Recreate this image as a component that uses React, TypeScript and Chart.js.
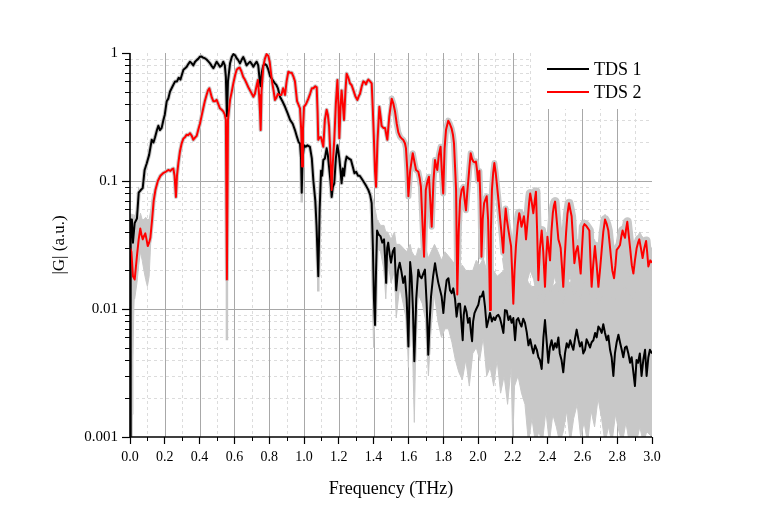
import React, { useEffect, useRef } from 'react';
import { Chart, registerables } from 'chart.js';

Chart.register(...registerables);

const FONT = "'Liberation Serif', 'Times New Roman', serif";
const GREY = '#c8c8c8';

const xTickValues = [0, 0.2, 0.4, 0.6, 0.8, 1.0, 1.2, 1.4, 1.6, 1.8, 2.0, 2.2, 2.4, 2.6, 2.8, 3.0];
const xTickLabels = ['0.0', '0.2', '0.4', '0.6', '0.8', '1.0', '1.2', '1.4', '1.6', '1.8', '2.0', '2.2', '2.4', '2.6', '2.8', '3.0'];
const yTickValues = [0.001, 0.01, 0.1, 1];
const yTickLabels = ['0.001', '0.01', '0.1', '1'];
const seriesNames = ['TDS 1', 'TDS 2'];
const xTitle = 'Frequency (THz)';
const yTitle = '|G| (a.u.)';

// TDS 1 (black)
const freq1 = [
  0.000, 0.004, 0.011, 0.017, 0.027, 0.040, 0.050, 0.062, 0.073, 0.084, 0.096, 0.110, 0.125, 0.135, 0.144, 0.155, 0.163, 0.172, 0.182, 0.192,
  0.200, 0.211, 0.220, 0.230, 0.245, 0.259, 0.270, 0.280, 0.290, 0.307, 0.317, 0.326, 0.335, 0.345, 0.355, 0.364, 0.373, 0.383, 0.392, 0.402,
  0.411, 0.420, 0.430, 0.440, 0.450, 0.460, 0.470, 0.479, 0.488, 0.498, 0.507, 0.517, 0.527, 0.536, 0.545, 0.551, 0.557, 0.563, 0.575, 0.585,
  0.594, 0.604, 0.613, 0.622, 0.632, 0.641, 0.651, 0.660, 0.670, 0.680, 0.690, 0.700, 0.709, 0.718, 0.728, 0.737, 0.745, 0.750, 0.757, 0.766,
  0.775, 0.785, 0.795, 0.805, 0.815, 0.825, 0.833, 0.842, 0.850, 0.862, 0.876, 0.891, 0.905, 0.920, 0.935, 0.948, 0.960, 0.970, 0.977, 0.983,
  0.987, 0.992, 1.000, 1.010, 1.020, 1.034, 1.045, 1.054, 1.065, 1.072, 1.082, 1.090, 1.098, 1.104, 1.111, 1.120, 1.130, 1.137, 1.144, 1.152,
  1.159, 1.166, 1.174, 1.183, 1.192, 1.198, 1.203, 1.210, 1.216, 1.223, 1.230, 1.238, 1.245, 1.256, 1.270, 1.280, 1.290, 1.300, 1.310, 1.320,
  1.330, 1.340, 1.350, 1.360, 1.370, 1.380, 1.389, 1.396, 1.402, 1.408, 1.414, 1.420, 1.430, 1.440, 1.450, 1.460, 1.466, 1.472, 1.478, 1.484,
  1.492, 1.500, 1.510, 1.520, 1.530, 1.540, 1.550, 1.560, 1.570, 1.580, 1.590, 1.600, 1.610, 1.618, 1.626, 1.634, 1.645, 1.657, 1.666, 1.676,
  1.686, 1.695, 1.705, 1.714, 1.722, 1.730, 1.742, 1.753, 1.762, 1.772, 1.782, 1.791, 1.801, 1.810, 1.820, 1.830, 1.839, 1.849, 1.858, 1.868,
  1.877, 1.887, 1.897, 1.904, 1.912, 1.918, 1.925, 1.934, 1.943, 1.952, 1.960, 1.966, 1.972, 1.980, 1.990, 2.002, 2.011, 2.021, 2.030, 2.040,
  2.050, 2.060, 2.069, 2.080, 2.090, 2.098, 2.107, 2.117, 2.126, 2.136, 2.146, 2.155, 2.165, 2.175, 2.185, 2.193, 2.203, 2.213, 2.222, 2.231,
  2.240, 2.250, 2.260, 2.270, 2.280, 2.290, 2.300, 2.310, 2.318, 2.328, 2.338, 2.347, 2.356, 2.366, 2.376, 2.385, 2.395, 2.404, 2.413, 2.423,
  2.433, 2.443, 2.452, 2.462, 2.470, 2.480, 2.490, 2.500, 2.510, 2.520, 2.530, 2.539, 2.548, 2.557, 2.567, 2.577, 2.586, 2.596, 2.605, 2.615,
  2.624, 2.634, 2.644, 2.653, 2.663, 2.673, 2.682, 2.692, 2.701, 2.711, 2.720, 2.730, 2.740, 2.749, 2.759, 2.768, 2.778, 2.787, 2.797, 2.807,
  2.816, 2.826, 2.835, 2.845, 2.854, 2.864, 2.874, 2.883, 2.893, 2.902, 2.911, 2.920, 2.930, 2.940, 2.950, 2.960, 2.969, 2.979, 2.988, 3.000,
];
const tds1 = [
  0.0008, 0.050, 0.050, 0.033, 0.047, 0.051, 0.081, 0.085, 0.088, 0.122, 0.137, 0.160, 0.210, 0.200, 0.220, 0.250, 0.270, 0.250, 0.260, 0.300,
  0.330, 0.420, 0.440, 0.500, 0.550, 0.600, 0.600, 0.640, 0.620, 0.740, 0.760, 0.780, 0.820, 0.855, 0.830, 0.800, 0.850, 0.880, 0.900, 0.935,
  0.940, 0.920, 0.910, 0.890, 0.860, 0.830, 0.790, 0.760, 0.800, 0.855, 0.820, 0.780, 0.800, 0.855, 0.800, 0.650, 0.320, 0.600, 0.830, 0.930,
  0.980, 0.960, 0.910, 0.880, 0.830, 0.880, 0.930, 0.870, 0.800, 0.830, 0.855, 0.820, 0.780, 0.820, 0.855, 0.800, 0.620, 0.550, 0.700, 0.800,
  0.820, 0.800, 0.740, 0.660, 0.630, 0.600, 0.580, 0.560, 0.530, 0.455, 0.420, 0.380, 0.340, 0.300, 0.280, 0.250, 0.220, 0.200, 0.197, 0.150,
  0.081, 0.150, 0.190, 0.185, 0.190, 0.185, 0.150, 0.100, 0.070, 0.045, 0.018, 0.060, 0.120, 0.110, 0.146, 0.150, 0.180, 0.160, 0.129, 0.100,
  0.075, 0.090, 0.096, 0.150, 0.190, 0.170, 0.150, 0.120, 0.096, 0.125, 0.110, 0.140, 0.155, 0.150, 0.146, 0.130, 0.115, 0.118, 0.110, 0.110,
  0.105, 0.100, 0.095, 0.090, 0.085, 0.078, 0.067, 0.030, 0.012, 0.0075, 0.020, 0.041, 0.038, 0.037, 0.033, 0.035, 0.025, 0.016, 0.030, 0.033,
  0.027, 0.023, 0.028, 0.030, 0.014, 0.020, 0.023, 0.0196, 0.016, 0.018, 0.012, 0.0051, 0.0233, 0.018, 0.010, 0.0039, 0.012, 0.0203, 0.018, 0.0174,
  0.019, 0.0203, 0.011, 0.0044, 0.008, 0.0125, 0.018, 0.0228, 0.019, 0.016, 0.0141, 0.0125, 0.0093, 0.013, 0.0168, 0.0174, 0.014, 0.0133, 0.0145, 0.012,
  0.0087, 0.011, 0.011, 0.008, 0.0057, 0.009, 0.0105, 0.0095, 0.0078, 0.0085, 0.0065, 0.0056, 0.008, 0.0093, 0.010, 0.0108, 0.0125, 0.0125, 0.0137, 0.0105,
  0.0072, 0.0082, 0.0093, 0.008, 0.0086, 0.0082, 0.0088, 0.009, 0.0085, 0.0075, 0.0065, 0.0098, 0.0097, 0.0082, 0.0088, 0.0078, 0.0085, 0.0057, 0.0082, 0.0085,
  0.0078, 0.0073, 0.0084, 0.0078, 0.0066, 0.0052, 0.0058, 0.0050, 0.0045, 0.0052, 0.0048, 0.0042, 0.0040, 0.0034, 0.0060, 0.0082, 0.0055, 0.0038, 0.0050, 0.0057,
  0.0048, 0.0054, 0.0050, 0.0060, 0.0045, 0.0040, 0.0032, 0.0045, 0.0054, 0.0050, 0.0057, 0.0052, 0.0048, 0.0058, 0.0069, 0.0058, 0.0051, 0.0055, 0.0045, 0.0048,
  0.0058, 0.0054, 0.0050, 0.0055, 0.0057, 0.0065, 0.0060, 0.0073, 0.0070, 0.0065, 0.0076, 0.0065, 0.0057, 0.0062, 0.0048, 0.0042, 0.0030, 0.0045, 0.0055, 0.0063,
  0.0055, 0.0048, 0.0042, 0.0050, 0.0051, 0.0045, 0.0038, 0.0042, 0.0032, 0.0025, 0.0040, 0.0038, 0.0045, 0.0030, 0.0040, 0.0048, 0.0030, 0.0042, 0.0048, 0.0045,
];

// TDS 2 (red)
const freq2 = [
  0.000, 0.008, 0.017, 0.027, 0.040, 0.050, 0.059, 0.066, 0.073, 0.080, 0.088, 0.095, 0.102, 0.110, 0.117, 0.127, 0.136, 0.146, 0.160, 0.175,
  0.190, 0.205, 0.220, 0.232, 0.240, 0.249, 0.256, 0.264, 0.270, 0.278, 0.287, 0.297, 0.307, 0.316, 0.326, 0.335, 0.345, 0.355, 0.364, 0.373,
  0.383, 0.392, 0.402, 0.411, 0.421, 0.430, 0.440, 0.448, 0.456, 0.463, 0.470, 0.479, 0.488, 0.498, 0.507, 0.517, 0.527, 0.536, 0.545, 0.551,
  0.557, 0.563, 0.575, 0.585, 0.594, 0.604, 0.613, 0.622, 0.630, 0.640, 0.651, 0.660, 0.670, 0.680, 0.690, 0.700, 0.709, 0.718, 0.727, 0.735,
  0.742, 0.747, 0.751, 0.756, 0.766, 0.775, 0.785, 0.795, 0.803, 0.810, 0.818, 0.826, 0.833, 0.842, 0.850, 0.860, 0.870, 0.880, 0.891, 0.900,
  0.910, 0.920, 0.930, 0.940, 0.948, 0.960, 0.970, 0.977, 0.984, 0.989, 0.994, 1.000, 1.012, 1.025, 1.035, 1.045, 1.054, 1.065, 1.073, 1.078,
  1.082, 1.090, 1.098, 1.105, 1.111, 1.120, 1.130, 1.137, 1.144, 1.150, 1.159, 1.166, 1.174, 1.183, 1.192, 1.198, 1.203, 1.210, 1.216, 1.223,
  1.230, 1.238, 1.245, 1.255, 1.264, 1.274, 1.284, 1.295, 1.307, 1.315, 1.322, 1.332, 1.341, 1.350, 1.356, 1.363, 1.370, 1.380, 1.389, 1.396,
  1.402, 1.408, 1.414, 1.422, 1.433, 1.440, 1.446, 1.456, 1.466, 1.473, 1.479, 1.490, 1.504, 1.514, 1.523, 1.533, 1.542, 1.552, 1.561, 1.570,
  1.580, 1.586, 1.594, 1.600, 1.610, 1.625, 1.635, 1.644, 1.657, 1.665, 1.672, 1.680, 1.690, 1.700, 1.710, 1.718, 1.726, 1.734, 1.744, 1.753,
  1.760, 1.766, 1.775, 1.785, 1.792, 1.800, 1.808, 1.816, 1.829, 1.838, 1.848, 1.856, 1.862, 1.868, 1.874, 1.881, 1.889, 1.897, 1.906, 1.916,
  1.924, 1.931, 1.938, 1.944, 1.951, 1.958, 1.965, 1.973, 1.980, 1.988, 1.995, 2.000, 2.008, 2.014, 2.020, 2.027, 2.035, 2.043, 2.050, 2.058,
  2.065, 2.069, 2.074, 2.080, 2.087, 2.094, 2.102, 2.110, 2.118, 2.126, 2.136, 2.145, 2.152, 2.159, 2.166, 2.174, 2.182, 2.190, 2.196, 2.203,
  2.210, 2.218, 2.228, 2.237, 2.244, 2.250, 2.257, 2.264, 2.270, 2.276, 2.283, 2.289, 2.294, 2.300, 2.309, 2.318, 2.326, 2.333, 2.340, 2.347,
  2.356, 2.366, 2.375, 2.385, 2.392, 2.399, 2.406, 2.414, 2.422, 2.430, 2.436, 2.443, 2.452, 2.462, 2.470, 2.475, 2.482, 2.490, 2.498, 2.506,
  2.514, 2.523, 2.530, 2.538, 2.546, 2.554, 2.563, 2.573, 2.582, 2.590, 2.598, 2.605, 2.612, 2.620, 2.630, 2.640, 2.646, 2.653, 2.662, 2.672,
  2.682, 2.692, 2.701, 2.711, 2.720, 2.730, 2.740, 2.749, 2.757, 2.764, 2.772, 2.782, 2.790, 2.797, 2.806, 2.816, 2.824, 2.831, 2.838, 2.845,
  2.851, 2.858, 2.866, 2.874, 2.884, 2.893, 2.902, 2.912, 2.920, 2.927, 2.936, 2.946, 2.956, 2.966, 2.972, 2.979, 2.990, 3.000,
];
const tds2 = [
  0.030, 0.028, 0.018, 0.017, 0.026, 0.035, 0.0425, 0.038, 0.035, 0.037, 0.039, 0.035, 0.031, 0.033, 0.036, 0.050, 0.070, 0.085, 0.100, 0.110,
  0.115, 0.118, 0.122, 0.120, 0.123, 0.125, 0.110, 0.075, 0.110, 0.138, 0.170, 0.197, 0.215, 0.220, 0.230, 0.228, 0.236, 0.225, 0.210, 0.218,
  0.225, 0.250, 0.280, 0.320, 0.370, 0.420, 0.470, 0.510, 0.530, 0.490, 0.450, 0.420, 0.420, 0.430, 0.400, 0.370, 0.360, 0.350, 0.330, 0.300,
  0.017, 0.300, 0.430, 0.500, 0.580, 0.670, 0.740, 0.760, 0.770, 0.720, 0.650, 0.620, 0.580, 0.540, 0.510, 0.480, 0.455, 0.480, 0.550, 0.615,
  0.470, 0.350, 0.250, 0.500, 0.780, 0.900, 0.980, 0.950, 0.850, 0.700, 0.580, 0.500, 0.430, 0.450, 0.480, 0.470, 0.470, 0.530, 0.470, 0.600,
  0.715, 0.700, 0.700, 0.650, 0.600, 0.420, 0.390, 0.370, 0.250, 0.130, 0.250, 0.380, 0.400, 0.440, 0.480, 0.530, 0.530, 0.550, 0.540, 0.350,
  0.210, 0.220, 0.220, 0.200, 0.185, 0.300, 0.360, 0.330, 0.270, 0.180, 0.085, 0.140, 0.210, 0.400, 0.615, 0.400, 0.216, 0.380, 0.510, 0.400,
  0.300, 0.500, 0.690, 0.640, 0.580, 0.560, 0.510, 0.460, 0.430, 0.460, 0.480, 0.550, 0.600, 0.590, 0.570, 0.600, 0.620, 0.600, 0.580, 0.350,
  0.210, 0.120, 0.090, 0.200, 0.380, 0.320, 0.270, 0.260, 0.260, 0.230, 0.210, 0.320, 0.440, 0.400, 0.350, 0.280, 0.240, 0.222, 0.215, 0.210,
  0.197, 0.180, 0.120, 0.076, 0.120, 0.165, 0.140, 0.122, 0.118, 0.105, 0.090, 0.050, 0.0256, 0.085, 0.100, 0.108, 0.070, 0.044, 0.100, 0.146,
  0.130, 0.122, 0.160, 0.185, 0.120, 0.080, 0.180, 0.250, 0.296, 0.280, 0.258, 0.230, 0.197, 0.130, 0.085, 0.013, 0.040, 0.071, 0.085, 0.090,
  0.070, 0.059, 0.080, 0.100, 0.130, 0.165, 0.150, 0.142, 0.140, 0.142, 0.120, 0.100, 0.120, 0.070, 0.0256, 0.050, 0.067, 0.072, 0.076, 0.050,
  0.020, 0.0098, 0.040, 0.085, 0.115, 0.138, 0.115, 0.090, 0.070, 0.053, 0.038, 0.0275, 0.045, 0.061, 0.050, 0.042, 0.036, 0.031, 0.020, 0.011,
  0.020, 0.031, 0.045, 0.056, 0.050, 0.044, 0.048, 0.053, 0.045, 0.035, 0.045, 0.056, 0.068, 0.080, 0.068, 0.056, 0.070, 0.0825, 0.040, 0.0168,
  0.030, 0.041, 0.028, 0.0149, 0.025, 0.0367, 0.030, 0.024, 0.040, 0.056, 0.064, 0.069, 0.050, 0.035, 0.032, 0.030, 0.022, 0.0149, 0.025, 0.039,
  0.055, 0.067, 0.060, 0.053, 0.035, 0.0228, 0.028, 0.031, 0.024, 0.0189, 0.030, 0.044, 0.046, 0.045, 0.043, 0.041, 0.025, 0.0149, 0.022, 0.031,
  0.022, 0.0149, 0.020, 0.029, 0.040, 0.050, 0.046, 0.041, 0.032, 0.0256, 0.020, 0.0174, 0.022, 0.029, 0.030, 0.0316, 0.037, 0.041, 0.038, 0.036,
  0.042, 0.048, 0.038, 0.030, 0.022, 0.0189, 0.024, 0.030, 0.033, 0.035, 0.030, 0.025, 0.030, 0.034, 0.028, 0.0215, 0.024, 0.023,
];

// Uncertainty band of TDS 1 (grey), start and high-frequency tail
const band1StartF = [0.000, 0.004, 0.008, 0.012, 0.017, 0.022, 0.030, 0.040, 0.050];
const band1StartHi = [0.055, 0.055, 0.055, 0.055, 0.050, 0.052, 0.055, 0.060, 0.090];
const band1StartLo = [0.0008, 0.0008, 0.0008, 0.0015, 0.004, 0.010, 0.020, 0.040, 0.070];
const band1F = [
  1.38, 1.40, 1.42, 1.44, 1.46, 1.47, 1.48, 1.50, 1.52, 1.53, 1.55, 1.57, 1.59, 1.60, 1.61, 1.62, 1.634, 1.645, 1.657, 1.68,
  1.70, 1.715, 1.73, 1.75, 1.77, 1.79, 1.81, 1.83, 1.85, 1.87, 1.89, 1.91, 1.93, 1.95, 1.97, 1.99, 2.01, 2.03, 2.05, 2.07,
  2.09, 2.11, 2.13, 2.15, 2.17, 2.19, 2.20, 2.21, 2.23, 2.25, 2.27, 2.29, 2.31, 2.33, 2.35, 2.37, 2.39, 2.41, 2.43, 2.45,
  2.47, 2.49, 2.51, 2.53, 2.55, 2.57, 2.59, 2.61, 2.63, 2.65, 2.67, 2.69, 2.71, 2.73, 2.75, 2.77, 2.79, 2.81, 2.83, 2.85,
  2.87, 2.89, 2.91, 2.93, 2.95, 2.97, 3.00,
];
const band1Hi = [
  0.085, 0.070, 0.050, 0.045, 0.045, 0.040, 0.040, 0.035, 0.040, 0.032, 0.032, 0.030, 0.028, 0.030, 0.032, 0.028, 0.026, 0.026, 0.030, 0.028,
  0.030, 0.025, 0.028, 0.032, 0.028, 0.024, 0.028, 0.026, 0.024, 0.022, 0.020, 0.022, 0.020, 0.020, 0.020, 0.024, 0.022, 0.025, 0.020, 0.020,
  0.020, 0.018, 0.019, 0.020, 0.018, 0.018, 0.017, 0.018, 0.017, 0.018, 0.019, 0.016, 0.015, 0.015, 0.016, 0.018, 0.017, 0.014, 0.015, 0.016,
  0.015, 0.014, 0.017, 0.016, 0.018, 0.016, 0.015, 0.016, 0.018, 0.018, 0.019, 0.018, 0.019, 0.017, 0.016, 0.014, 0.015, 0.017, 0.015, 0.016,
  0.014, 0.014, 0.015, 0.014, 0.016, 0.015, 0.014,
];
const band1Lo = [
  0.070, 0.005, 0.030, 0.028, 0.020, 0.012, 0.025, 0.016, 0.020, 0.0085, 0.015, 0.011, 0.008, 0.0035, 0.014, 0.008, 0.0013, 0.008, 0.013, 0.011,
  0.008, 0.003, 0.007, 0.013, 0.008, 0.006, 0.007, 0.007, 0.0055, 0.004, 0.0032, 0.0028, 0.004, 0.0025, 0.0045, 0.005, 0.004, 0.006, 0.003, 0.0035,
  0.0025, 0.004, 0.0022, 0.003, 0.0018, 0.0035, 0.0009, 0.0025, 0.003, 0.0022, 0.0018, 0.0009, 0.0014, 0.0009, 0.0011, 0.0009, 0.0016, 0.0009, 0.0015, 0.0012,
  0.0009, 0.0011, 0.0016, 0.0009, 0.0014, 0.0018, 0.001, 0.0013, 0.0009, 0.0016, 0.0012, 0.002, 0.0014, 0.0009, 0.0012, 0.0009, 0.0015, 0.0011, 0.0009, 0.0013,
  0.0009, 0.001, 0.0009, 0.0012, 0.0009, 0.0011, 0.001,
];

// Uncertainty band of TDS 2 (grey), start and high-frequency tail
const band2StartF = [0.000, 0.008, 0.017, 0.027, 0.040, 0.050, 0.060, 0.070, 0.080, 0.090, 0.100, 0.110, 0.120, 0.130];
const band2StartHi = [0.034, 0.032, 0.022, 0.025, 0.040, 0.048, 0.056, 0.050, 0.050, 0.052, 0.050, 0.050, 0.060, 0.080];
const band2StartLo = [0.025, 0.020, 0.013, 0.012, 0.016, 0.022, 0.028, 0.024, 0.020, 0.017, 0.015, 0.018, 0.035, 0.060];
const band2F = [
  2.14, 2.16, 2.18, 2.20, 2.22, 2.25, 2.28, 2.30, 2.32, 2.34, 2.36, 2.38, 2.40, 2.42, 2.44, 2.46, 2.48, 2.49, 2.51, 2.53,
  2.55, 2.57, 2.59, 2.61, 2.63, 2.65, 2.67, 2.69, 2.71, 2.73, 2.75, 2.77, 2.79, 2.81, 2.83, 2.85, 2.87, 2.89, 2.91, 2.93,
  2.95, 2.97, 2.98, 3.00,
];
const band2Hi = [
  0.040, 0.050, 0.040, 0.030, 0.040, 0.050, 0.045, 0.060, 0.050, 0.040, 0.045, 0.035, 0.040, 0.050, 0.060, 0.045, 0.030, 0.030, 0.045, 0.055,
  0.035, 0.035, 0.030, 0.050, 0.045, 0.030, 0.035, 0.025, 0.035, 0.055, 0.045, 0.030, 0.030, 0.040, 0.045, 0.050, 0.040, 0.030, 0.035, 0.040,
  0.035, 0.035, 0.030, 0.030,
];
const band2Lo = [
  0.025, 0.016, 0.015, 0.009, 0.014, 0.018, 0.016, 0.020, 0.017, 0.012, 0.014, 0.011, 0.015, 0.013, 0.018, 0.014, 0.012, 0.011, 0.015, 0.018,
  0.012, 0.014, 0.012, 0.016, 0.015, 0.011, 0.013, 0.011, 0.012, 0.016, 0.014, 0.012, 0.012, 0.014, 0.014, 0.015, 0.013, 0.012, 0.014, 0.014,
  0.013, 0.013, 0.012, 0.013,
];

// Grey band reaching below the deepest dips
const dipF = [0.557, 0.987, 1.082, 1.881, 2.069];
const dipTop = [0.017, 0.081, 0.018, 0.013, 0.0098];
const dipBottom = [0.0057, 0.068, 0.0137, 0.011, 0.008];

const pts = (xs: number[], ys: number[]) => xs.map((x, i) => ({ x, y: ys[i] }));

const gridPlugin = {
  id: 'originGrid',
  beforeDatasetsDraw(chart: any) {
    const { ctx, chartArea: a, scales } = chart;
    const xs = scales.x;
    const ys = scales.y;
    const hLine = (py: number) => {
      const p = Math.round(py) + 0.5;
      ctx.beginPath(); ctx.moveTo(a.left, p); ctx.lineTo(a.right, p); ctx.stroke();
    };
    const vLine = (px: number) => {
      const p = Math.round(px) + 0.5;
      ctx.beginPath(); ctx.moveTo(p, a.top); ctx.lineTo(p, a.bottom); ctx.stroke();
    };
    ctx.save();
    ctx.lineWidth = 1;
    ctx.strokeStyle = '#dcdcdc';
    ctx.setLineDash([3, 3]);
    for (let i = 1; i < 30; i += 2) vLine(xs.getPixelForValue(i / 10));
    for (let d = 0; d < 3; d++) {
      for (let k = 2; k <= 9; k++) hLine(ys.getPixelForValue(k * yTickValues[d]));
    }
    ctx.setLineDash([]);
    ctx.strokeStyle = '#a8a8a8';
    for (let i = 2; i < 30; i += 2) vLine(xs.getPixelForValue(i / 10));
    hLine(ys.getPixelForValue(0.01));
    hLine(ys.getPixelForValue(0.1));

    // legend
    ctx.fillStyle = '#ffffff';
    ctx.fillRect(a.right - 120, a.top, 128, 56);
    const colors = ['#000000', '#ff0000'];
    const rows = [a.top + 16, a.top + 39];
    ctx.font = `18px ${FONT}`;
    ctx.textAlign = 'left';
    ctx.textBaseline = 'alphabetic';
    for (let i = 0; i < 2; i++) {
      ctx.strokeStyle = colors[i];
      ctx.lineWidth = 2;
      ctx.beginPath();
      ctx.moveTo(a.right - 105, rows[i]);
      ctx.lineTo(a.right - 63, rows[i]);
      ctx.stroke();
      ctx.fillStyle = '#000';
      ctx.fillText(seriesNames[i], a.right - 58, rows[i] + 6);
    }
    ctx.restore();
  },
  afterDatasetsDraw(chart: any) {
    const { ctx, chartArea: a, scales } = chart;
    const xs = scales.x;
    const ys = scales.y;
    ctx.save();
    ctx.strokeStyle = '#000';
    ctx.lineWidth = 1;
    for (let i = 1; i < 30; i += 2) {
      const p = Math.round(xs.getPixelForValue(i / 10)) + 0.5;
      ctx.beginPath(); ctx.moveTo(p, a.bottom); ctx.lineTo(p, a.bottom + 4); ctx.stroke();
    }
    for (let d = 0; d < 3; d++) {
      for (let k = 2; k <= 9; k++) {
        const p = Math.round(ys.getPixelForValue(k * yTickValues[d])) + 0.5;
        ctx.beginPath(); ctx.moveTo(a.left - 5, p); ctx.lineTo(a.left, p); ctx.stroke();
      }
    }
    ctx.lineWidth = 1.6;
    ctx.beginPath();
    ctx.moveTo(a.left, a.top);
    ctx.lineTo(a.left, a.bottom);
    ctx.lineTo(a.right, a.bottom);
    ctx.stroke();
    ctx.restore();
  },
};

const bandPair = (xs: number[], hi: number[], lo: number[]) => [
  { data: pts(xs, hi), borderColor: GREY, borderWidth: 1, backgroundColor: GREY, fill: '+1', pointRadius: 0, clip: 0 },
  { data: pts(xs, lo), borderColor: GREY, borderWidth: 1, backgroundColor: GREY, fill: false, pointRadius: 0, clip: 0 },
];

export default function App() {
  const ref = useRef<HTMLCanvasElement | null>(null);
  useEffect(() => {
    if (!ref.current) return;
    const dipData: any[] = [];
    dipF.forEach((f, i) => {
      dipData.push({ x: f, y: dipTop[i] }, { x: f, y: dipBottom[i] }, { x: f + 0.0005, y: null });
    });
    const chart = new Chart(ref.current, {
      type: 'line',
      data: {
        datasets: [
          { label: seriesNames[1], data: pts(freq2, tds2), borderColor: '#ff0000', borderWidth: 2, pointRadius: 0, fill: false, borderJoinStyle: 'round', clip: 0 },
          { label: seriesNames[0], data: pts(freq1, tds1), borderColor: '#000000', borderWidth: 2, pointRadius: 0, fill: false, borderJoinStyle: 'round', clip: 0 },
          {
            data: pts(freq2, tds2), borderColor: GREY, borderWidth: 4, pointRadius: 0, fill: false,
            borderJoinStyle: 'round', borderCapStyle: 'round', clip: 0,
            segment: { borderWidth: (c: any) => (c.p0.parsed.x >= 2.2 ? 9 : c.p0.parsed.x >= 1.5 ? 6 : 4) },
          },
          { data: pts(freq1, tds1), borderColor: GREY, borderWidth: 4, pointRadius: 0, fill: false, borderJoinStyle: 'round', borderCapStyle: 'round', clip: 0 },
          { data: dipData, borderColor: GREY, borderWidth: 2.5, pointRadius: 0, fill: false, spanGaps: false, clip: 0 },
          ...bandPair(band2F, band2Hi, band2Lo),
          ...bandPair(band2StartF, band2StartHi, band2StartLo),
          ...bandPair(band1F, band1Hi, band1Lo),
          ...bandPair(band1StartF, band1StartHi, band1StartLo),
        ] as any,
      },
      options: {
        animation: false,
        responsive: false,
        devicePixelRatio: 1,
        layout: { padding: { top: 53, right: 118, bottom: 0, left: 0 } },
        plugins: { legend: { display: false }, tooltip: { enabled: false } },
        elements: { point: { radius: 0 }, line: { tension: 0 } },
        scales: {
          x: {
            type: 'linear',
            min: 0,
            max: 3,
            afterBuildTicks: (s: any) => { s.ticks = xTickValues.map((v) => ({ value: v })); },
            afterFit: (s: any) => { s.height = 91; },
            ticks: {
              callback: (_v: any, i: number) => xTickLabels[i],
              font: { family: FONT, size: 14 },
              color: '#000',
              padding: 5,
              maxRotation: 0,
              autoSkip: false,
            },
            grid: { drawOnChartArea: false, drawTicks: true, tickLength: 7, tickColor: '#000', tickWidth: 1.2 },
            border: { display: false },
            title: { display: true, text: xTitle, font: { family: FONT, size: 18 }, color: '#000', padding: { top: 0, bottom: 28 } },
          },
          y: {
            type: 'logarithmic',
            min: 0.001,
            max: 1,
            afterBuildTicks: (s: any) => { s.ticks = yTickValues.map((v) => ({ value: v })); },
            afterFit: (s: any) => { s.width = 130; },
            ticks: {
              callback: (_v: any, i: number) => yTickLabels[i],
              font: { family: FONT, size: 15 },
              color: '#000',
              padding: 4,
              autoSkip: false,
            },
            grid: { drawOnChartArea: false, drawTicks: true, tickLength: 8, tickColor: '#000', tickWidth: 1.2 },
            border: { display: false },
            title: { display: true, text: yTitle, font: { family: FONT, size: 17 }, color: '#000', padding: { top: 49, bottom: 0 } },
          },
        },
      } as any,
      plugins: [gridPlugin],
    });
    return () => chart.destroy();
  }, []);

  return (
    <div style={{ position: 'fixed', left: 0, top: 0, width: 770, height: 528, background: '#fff' }}>
      <canvas ref={ref} width={770} height={528} style={{ display: 'block' }} />
    </div>
  );
}
